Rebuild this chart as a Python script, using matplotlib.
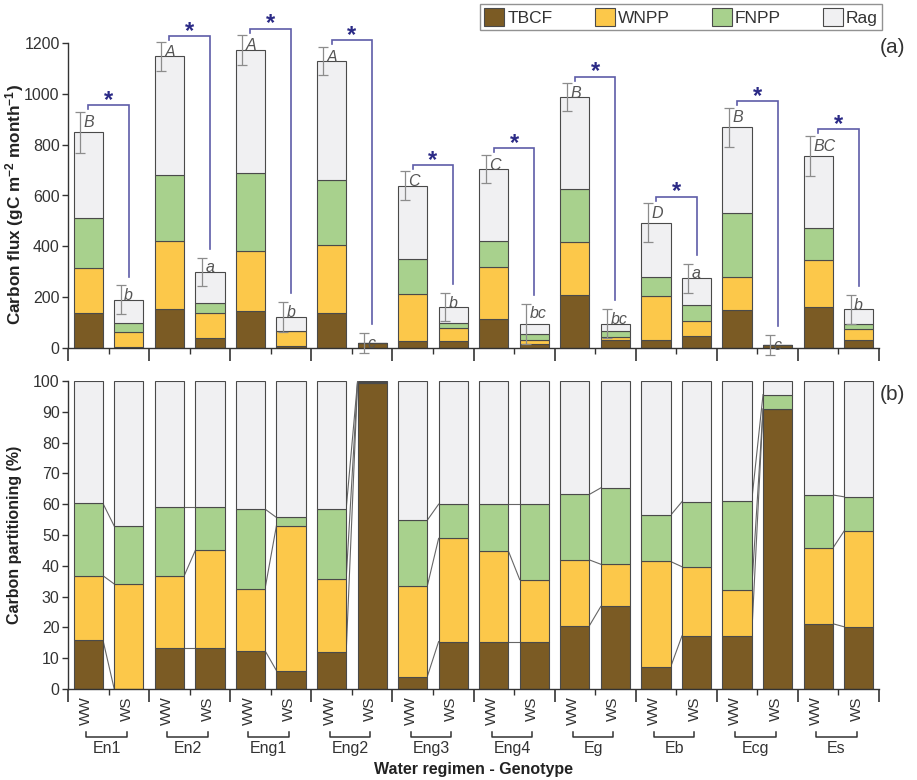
import matplotlib
matplotlib.use("Agg")
import matplotlib.pyplot as plt
import matplotlib.transforms as mtransforms
from matplotlib.patches import Patch
import numpy as np

plt.rcParams['font.family'] = ['Liberation Sans', 'DejaVu Sans']
plt.rcParams['mathtext.fontset'] = 'custom'
plt.rcParams['mathtext.rm'] = 'Liberation Sans'
plt.rcParams['mathtext.bf'] = 'Liberation Sans:bold'
plt.rcParams['mathtext.default'] = 'bf'

# ---- data -------------------------------------------------------------
genotypes = ['En1', 'En2', 'Eng1', 'Eng2', 'Eng3', 'Eng4', 'Eg', 'Eb', 'Ecg', 'Es']
regimes = ['WW', 'WS']
components = ['TBCF', 'WNPP', 'FNPP', 'Rag']

# carbon flux per bar (WW, WS alternating for each genotype), gC m-2 month-1
flux_tbcf = [138, 4, 152, 41, 146, 9, 138, 19.8, 28, 28, 113, 17, 208, 30, 33, 46, 150, 10, 162, 30]
flux_wnpp = [177, 59, 270, 98, 235, 57, 267, 0.1, 186, 51, 204, 16, 210, 13, 173, 62, 131, 0.1, 184, 45]
flux_fnpp = [197, 37, 259, 38, 308, 2, 255, 0.05, 138, 21, 105, 24, 207, 23, 73, 60, 249, 0.5, 128, 21]
flux_rag = [337, 89, 466, 123, 484, 54, 469, 0.05, 287, 62, 282, 39, 362, 30, 214, 107, 339, 0.4, 282, 56]
flux_err = [80, 57, 56, 56, 58, 58, 56, 40, 56, 55, 56, 79, 55, 56, 77, 57, 77, 40, 79, 57]
flux_letters = ['B', 'b', 'A', 'a', 'A', 'b', 'A', 'c', 'C', 'b',
                'C', 'bc', 'B', 'bc', 'D', 'a', 'B', 'c', 'BC', 'b']

# carbon partitioning per bar, %
part_tbcf = [16.0, 0.0, 13.2, 13.2, 12.4, 6.0, 11.9, 99.4, 4.0, 15.4,
             15.4, 15.4, 20.6, 26.8, 7.1, 17.2, 17.2, 90.8, 21.2, 20.2]
part_wnpp = [20.8, 34.1, 23.4, 31.8, 20.2, 47.0, 23.8, 0.2, 29.4, 33.5,
             29.4, 20.1, 21.3, 13.7, 34.3, 22.5, 15.1, 0.2, 24.5, 31.1]
part_fnpp = [23.5, 18.8, 22.5, 14.1, 25.8, 2.7, 22.7, 0.2, 21.4, 11.1,
             15.2, 24.5, 21.3, 24.8, 15.0, 21.1, 28.6, 4.6, 17.3, 11.1]
part_rag = [39.7, 47.1, 40.9, 40.9, 41.6, 44.3, 41.6, 0.2, 45.2, 40.0,
            40.0, 40.0, 36.8, 34.7, 43.6, 39.2, 39.1, 4.4, 37.0, 37.6]

# ---- styles -----------------------------------------------------------
colors = ['#7b5b24', '#fcc84a', '#a8d18d', '#f0f0f2']
edge = '#4a4a4a'
txt = '#333333'
bracket_col = '#5d5ca8'
star_col = '#2b2a86'
bar_w = 0.72

n = len(flux_tbcf)
x = np.arange(n)

fig = plt.figure(figsize=(9.17, 7.8), dpi=100)
ax1 = fig.add_axes([68 / 917, 1 - 348 / 780, 811 / 917, 305 / 780])
ax2 = fig.add_axes([68 / 917, 1 - 689 / 780, 811 / 917, 308 / 780])

boundaries = np.arange(-0.5, n + 0.5, 2)
mids = np.arange(0.5, n, 2)


def style_axis(ax):
    for s in ['top', 'right']:
        ax.spines[s].set_visible(False)
    for s in ['left', 'bottom']:
        ax.spines[s].set_color(txt)
        ax.spines[s].set_linewidth(1.0)
    ax.set_xlim(-0.5, n - 0.5)
    ax.tick_params(axis='y', direction='out', length=4, width=1, colors=txt,
                   labelsize=11.5, pad=2)
    ax.set_xticks([])
    sec = ax.secondary_xaxis(0)
    sec.spines['bottom'].set_visible(False)
    sec.set_xticks(boundaries)
    sec.set_xticks(mids, minor=True)
    sec.tick_params(axis='x', which='major', length=9, width=1.2, colors=txt,
                    labelbottom=False)
    sec.tick_params(axis='x', which='minor', length=4, width=1, colors=txt,
                    labelbottom=False)
    return sec


# ---- panel (a): carbon flux ------------------------------------------
flux = [flux_tbcf, flux_wnpp, flux_fnpp, flux_rag]
bottom = np.zeros(n)
for vals, c in zip(flux, colors):
    ax1.bar(x, vals, bar_w, bottom=bottom, color=c, edgecolor=edge,
            linewidth=0.8, zorder=2)
    bottom = bottom + np.array(vals)
totals = bottom

err_x = x - 0.2
ax1.errorbar(err_x, totals, yerr=flux_err, fmt='none', ecolor='#8c8c8c',
             elinewidth=0.9, capsize=3.5, capthick=0.9, zorder=3, clip_on=False)
for xi, t, e, lab in zip(err_x, totals, flux_err, flux_letters):
    ax1.annotate(lab, (xi, t + e), xytext=(2.5, -2), textcoords='offset points',
                 ha='left', va='top', fontsize=11.5, style='italic', color='#555555',
                 zorder=4, annotation_clip=False)

# significance brackets between WW and WS of each genotype
for g in range(len(genotypes)):
    iw, isd = 2 * g, 2 * g + 1
    top = totals[iw] + flux_err[iw] + 26
    right_end = totals[isd] + flux_err[isd] + 35
    ax1.plot([x[iw], x[iw], x[isd], x[isd]],
             [top - 16, top, top, right_end],
             color=bracket_col, lw=1.2, clip_on=False, zorder=4,
             solid_joinstyle='miter')
    ax1.annotate('*', ((x[iw] + x[isd]) / 2, top), xytext=(0, -5),
                 textcoords='offset points', ha='center', va='bottom',
                 fontsize=17, fontweight='bold', color=star_col,
                 annotation_clip=False)

ax1.set_ylim(0, 1200)
ax1.set_yticks(np.arange(0, 1201, 200))
style_axis(ax1)
ax1.text(-0.066, 0.47, r'Carbon flux (gC m$^{-2}$ month$^{-1}$)', transform=ax1.transAxes,
         rotation=90, ha='center', va='center', fontsize=12.3, fontweight='bold',
         color='#222222')
ax1.text(1.017, 0.985, '(a)', transform=ax1.transAxes, ha='center', va='center',
         fontsize=15, color=txt)

handles = [Patch(facecolor=c, edgecolor=edge, linewidth=0.8) for c in colors]
leg = fig.legend(handles, components, ncol=4, loc='upper left',
                 bbox_to_anchor=(480 / 917, 1 - 4 / 780), fontsize=12.5,
                 frameon=True, fancybox=False, edgecolor='#777777',
                 handlelength=1.15, handleheight=1.15, handletextpad=0.2,
                 columnspacing=2.4, borderpad=0.25, borderaxespad=0)
leg.get_frame().set_linewidth(1.0)
for t in leg.get_texts():
    t.set_color(txt)

# ---- panel (b): carbon partitioning ----------------------------------
part = [part_tbcf, part_wnpp, part_fnpp, part_rag]
bottom = np.zeros(n)
levels = []
for vals, c in zip(part, colors):
    ax2.bar(x, vals, bar_w, bottom=bottom, color=c, edgecolor=edge,
            linewidth=0.8, zorder=2)
    bottom = bottom + np.array(vals)
    levels.append(bottom.copy())

# lines joining matching boundaries of WW and WS bars
for g in range(len(genotypes)):
    iw, isd = 2 * g, 2 * g + 1
    for lev in levels[:3]:
        ax2.plot([x[iw] + bar_w / 2, x[isd] - bar_w / 2], [lev[iw], lev[isd]],
                 color='#666666', lw=0.8, zorder=1)

ax2.set_ylim(0, 100)
ax2.set_yticks(np.arange(0, 101, 10))
style_axis(ax2)
ax2.text(-0.066, 0.5, 'Carbon partitioning (%)', transform=ax2.transAxes,
         rotation=90, ha='center', va='center', fontsize=11.5, fontweight='bold',
         color='#222222')
ax2.text(1.017, 0.955, '(b)', transform=ax2.transAxes, ha='center', va='center',
         fontsize=15, color=txt)

# regime labels and genotype brackets under the lower panel
trans = mtransforms.blended_transform_factory(ax2.transData, ax2.transAxes)
for i in range(n):
    ax2.text(x[i] - 0.05, -0.024, regimes[i % 2], transform=trans, rotation=90,
             ha='center', va='top', fontsize=11, color=txt)
for g, name in enumerate(genotypes):
    iw, isd = 2 * g, 2 * g + 1
    ax2.plot([x[iw] - 0.05, x[iw] - 0.05, x[isd] - 0.05, x[isd] - 0.05],
             [-0.138, -0.156, -0.156, -0.138], transform=trans, color=txt,
             lw=1.1, clip_on=False)
    ax2.text((x[iw] + x[isd]) / 2 - 0.05, -0.192, name, transform=trans,
             ha='center', va='center', fontsize=11.5, color=txt)
ax2.text(0.5, -0.262, 'Water regimen - Genotype', transform=ax2.transAxes,
         ha='center', va='center', fontsize=11.5, fontweight='bold', color='#222222')

fig.savefig('out.png', dpi=100, facecolor='white')
